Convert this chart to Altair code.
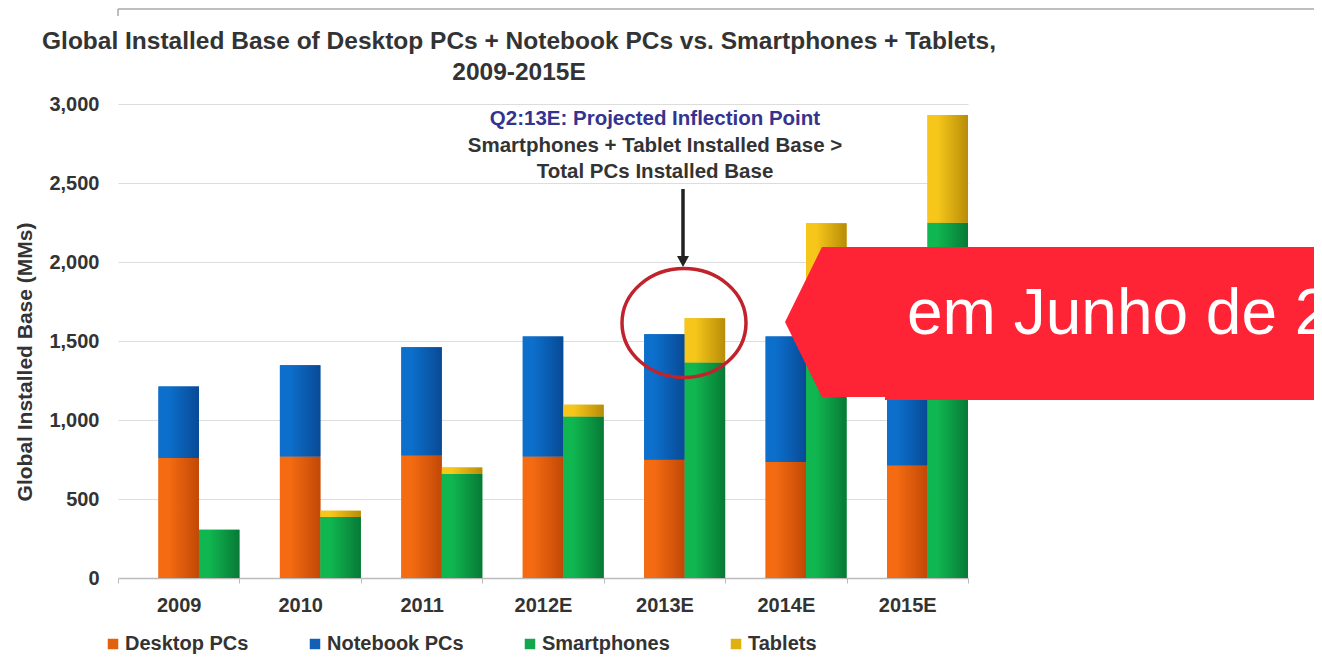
import altair as alt
import pandas as pd

# ---------------- data ----------------
years = ["2009", "2010", "2011", "2012E", "2013E", "2014E", "2015E"]
desktop = [759, 769, 775, 769, 748, 734, 712]
notebook = [453, 578, 686, 759, 795, 794, 788]
smartphones = [305, 386, 658, 1022, 1364, 1800, 2249]
tablets = [0, 40, 42, 74, 280, 445, 681]

series_names = ["Desktop PCs", "Notebook PCs", "Smartphones", "Tablets"]
series_groups = ["PC", "PC", "Mobile", "Mobile"]
y_ticks = [0, 500, 1000, 1500, 2000, 2500, 3000]

title_lines = ["Global Installed Base of Desktop PCs + Notebook PCs vs. Smartphones + Tablets,",
               "2009-2015E"]
note_lines = ["Q2:13E: Projected Inflection Point",
              "Smartphones + Tablet Installed Base >",
              "Total PCs Installed Base"]
y_title = "Global Installed Base (MMs)"
banner_text = "em Junho de 2013"

# ---------------- styling ----------------
FONT = "Liberation Sans"
legend_colors = ["#E2600E", "#1160B5", "#12A64E", "#E0B010"]
grad_stops = [("#F46B12", "#C24806"), ("#0C6FCB", "#084A96"),
              ("#10B650", "#077A36"), ("#F6C71A", "#B88C08")]

rows = []
for i, (name, grp, vals) in enumerate(zip(series_names, series_groups,
                                          [desktop, notebook, smartphones, tablets])):
    for yr, v in zip(years, vals):
        rows.append({"year": yr, "series": name, "group": grp, "value": v, "order": i})
df = pd.DataFrame(rows)

W, H = 850, 474

x_enc = alt.X("year:N", sort=years, title=None,
              scale=alt.Scale(domain=years, paddingInner=0, paddingOuter=0, round=False),
              axis=alt.Axis(labelFont=FONT, labelFontSize=20, labelFontWeight="bold",
                            labelColor="#333333", labelAngle=0, labelPadding=12,
                            tickBand="extent", tickSize=5, tickColor="#BBBBBB",
                            domainColor="#BBBBBB", domainWidth=1.5, grid=False))
xo_enc = alt.XOffset("group:N",
                     scale=alt.Scale(domain=["gap", "PC", "Mobile"], paddingInner=0,
                                     paddingOuter=0, round=False))
y_enc = alt.Y("y0:Q", title=None,
              scale=alt.Scale(domain=[0, 3000], nice=False),
              axis=alt.Axis(values=y_ticks, format=",.0f", labelFont=FONT, labelFontSize=20,
                            labelFontWeight="bold", labelColor="#333333", labelPadding=19,
                            ticks=False, tickSize=0, domain=False,
                            gridColor="#DDDDDD", gridWidth=1))

base = alt.Chart(df).transform_stack(
    stack="value", groupby=["year", "group"], as_=["y0", "y1"],
    sort=[alt.SortField("order", order="ascending")])

flat = base.mark_bar(strokeWidth=0).encode(
    x=x_enc, xOffset=xo_enc, y=y_enc, y2="y1:Q",
    fill=alt.Fill("series:N",
                  scale=alt.Scale(domain=series_names, range=legend_colors),
                  legend=alt.Legend(title=None, orient="none", legendX=-15, legendY=530,
                                    direction="horizontal", symbolType="square",
                                    symbolSize=110, symbolStrokeWidth=0,
                                    labelFont=FONT, labelFontSize=20, labelFontWeight="bold",
                                    labelColor="#333333", columnPadding=56, labelOffset=2,
                                    padding=0, labelLimit=400)))

grad_layers = []
for name, (c0, c1) in zip(series_names, grad_stops):
    grad = alt.LinearGradient(gradient="linear", x1=0, y1=0, x2=1, y2=0,
                              stops=[alt.GradientStop(color=c0, offset=0),
                                     alt.GradientStop(color=c0, offset=0.25),
                                     alt.GradientStop(color=c1, offset=1)])
    grad_layers.append(
        base.transform_filter(alt.datum.series == name)
        .mark_bar(fill=grad, strokeWidth=0)
        .encode(x=x_enc, xOffset=xo_enc, y=y_enc, y2="y1:Q"))

one = alt.Data(values=[{}])

def txt(s, x, y, size, color="#333333", weight="bold", align="center", angle=0):
    return alt.Chart(one).mark_text(text=s, font=FONT, fontSize=size, fontWeight=weight,
                                    color=color, align=align, baseline="alphabetic",
                                    angle=angle).encode(x=alt.value(x), y=alt.value(y))

# top border line
top_line = alt.Chart(one).mark_rule(color="#AAAAAA", strokeWidth=1.5).encode(
    x=alt.value(0), x2=alt.value(1300), y=alt.value(-95))
top_tick = alt.Chart(one).mark_rule(color="#AAAAAA", strokeWidth=1.5).encode(
    x=alt.value(0), y=alt.value(-95), y2=alt.value(-88))

titles = [txt(title_lines[0], 401, -55, 24.5), txt(title_lines[1], 401, -24, 24.5)]
notes = [txt(note_lines[0], 537, 21, 20.5, color="#34338F"),
         txt(note_lines[1], 537, 48, 20.5),
         txt(note_lines[2], 537, 74, 20.5)]
ytitle = txt(y_title, -86, 258, 21, angle=270)

arrow_line = alt.Chart(one).mark_rule(color="#222222", strokeWidth=3.5).encode(
    x=alt.value(565), y=alt.value(85), y2=alt.value(154))
arrow_head = alt.Chart(one).mark_point(
    shape="M-6,-5L6,-5L0,6Z", filled=True, color="#222222", opacity=1, strokeWidth=0
).encode(x=alt.value(565), y=alt.value(157), size=alt.value(4))

ellipse = alt.Chart(one).mark_point(
    shape="M-62,0A62,54.5 0 1,1 62,0A62,54.5 0 1,1 -62,0Z", filled=False,
    stroke="#C0232B", strokeWidth=3.5, opacity=1
).encode(x=alt.value(566), y=alt.value(219), size=alt.value(4))

banner = alt.Chart(one).mark_point(
    shape="M0,0L37,-75L560,-75L560,78L100,78L100,75L37,75Z", filled=True,
    color="#FE2335", opacity=1, strokeWidth=0
).encode(x=alt.value(667), y=alt.value(218), size=alt.value(4))
banner_txt = txt(banner_text, 789, 230, 64, color="#FFFFFF", weight="normal", align="left")

chart = alt.layer(
    flat, *grad_layers, top_line, top_tick, *titles, ytitle, *notes,
    arrow_line, arrow_head, ellipse, banner, banner_txt
).properties(
    width=W, height=H,
    autosize=alt.AutoSizeParams(type="none"),
    padding={"left": 110, "top": 96, "right": 346, "bottom": 76},
    background="#FFFFFF"
).configure_view(stroke=None)

chart.save("out.html", embed_options={"renderer": "svg", "actions": False})
